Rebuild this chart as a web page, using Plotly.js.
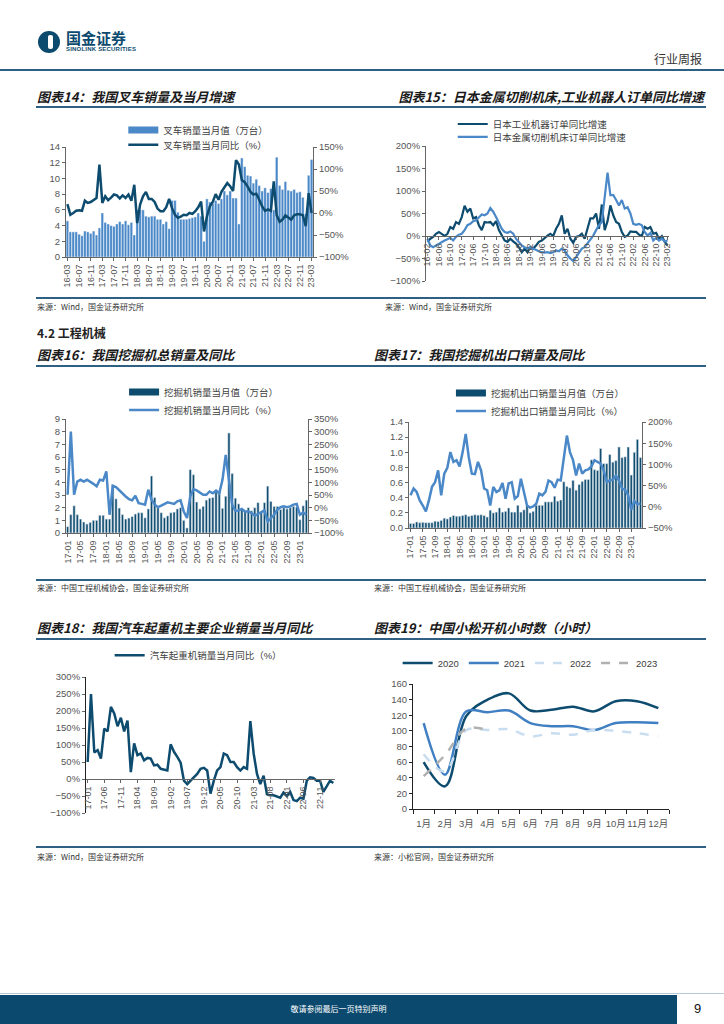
<!DOCTYPE html>
<html><head><meta charset="utf-8">
<script src="https://cdn.plot.ly/plotly-3.0.1.min.js"></script>
<style>
body{margin:0;background:#fff;}
#page{position:relative;width:724px;height:1024px;background:#fff;overflow:hidden;font-family:"Noto Sans CJK SC","Liberation Sans",sans-serif;}
.a{position:absolute;white-space:nowrap;}
.ttl{font-size:13px;font-weight:bold;font-style:italic;color:#1a1a1a;line-height:18px;}
.src{font-size:8px;color:#333;line-height:10px;}
.hl{position:absolute;height:1.5px;background:#2f5f82;}
.ch{position:absolute;}
</style></head>
<body><div id="page">
<svg class="a" style="left:36px;top:29px" width="26" height="26" viewBox="0 0 26 26">
 <circle cx="13" cy="13" r="11" fill="#0c4a6e"/>
 <rect x="12" y="6" width="5" height="14" rx="2" fill="#fff"/>
</svg>
<div class="a" style="left:66px;top:29px;font-size:15px;font-weight:bold;color:#0c4a6e;line-height:18px;">国金证券</div>
<div class="a" style="left:66px;top:46px;font-size:6px;font-weight:bold;color:#0c4a6e;font-family:'Liberation Sans';letter-spacing:0.2px;">SINOLINK SECURITIES</div>
<div class="a" style="right:22px;top:51px;font-size:12px;color:#333;line-height:16px;">行业周报</div>
<div class="hl" style="left:0;top:69px;width:724px;"></div>

<div class="a ttl" style="left:37px;top:88px;">图表14：我国叉车销量及当月增速</div>
<div class="a ttl" style="right:20px;top:88px;">图表15：日本金属切削机床,工业机器人订单同比增速</div>
<div class="hl" style="left:36px;top:106px;width:670px;"></div>
<div class="hl" style="left:36px;top:297px;width:670px;"></div>
<div class="a src" style="left:37px;top:302px;">来源：Wind，国金证券研究所</div>
<div class="a src" style="left:385px;top:302px;">来源：Wind，国金证券研究所</div>

<div class="a" style="left:37px;top:325px;font-size:12px;font-weight:bold;color:#222;line-height:16px;">4.2 工程机械</div>
<div class="a ttl" style="left:37px;top:346px;">图表16：我国挖掘机总销量及同比</div>
<div class="a ttl" style="left:374px;top:346px;">图表17：我国挖掘机出口销量及同比</div>
<div class="hl" style="left:36px;top:365px;width:670px;"></div>
<div class="hl" style="left:36px;top:579px;width:670px;"></div>
<div class="a src" style="left:37px;top:583px;">来源：中国工程机械协会，国金证券研究所</div>
<div class="a src" style="left:374px;top:583px;">来源：中国工程机械协会，国金证券研究所</div>

<div class="a ttl" style="left:37px;top:619px;">图表18：我国汽车起重机主要企业销量当月同比</div>
<div class="a ttl" style="left:374px;top:619px;">图表19：中国小松开机小时数（小时）</div>
<div class="hl" style="left:36px;top:638px;width:670px;"></div>
<div class="hl" style="left:36px;top:846px;width:670px;"></div>
<div class="a src" style="left:37px;top:852px;">来源：Wind，国金证券研究所</div>
<div class="a src" style="left:374px;top:852px;">来源：小松官网，国金证券研究所</div>

<div class="a" style="left:0;top:993px;width:724px;height:1px;background:#b8cad8;"></div>
<div class="a" style="left:0;top:995px;width:677px;height:29px;background:#0b4a6e;"></div>
<div class="a" style="left:0;top:1003px;width:677px;text-align:center;font-size:8px;color:#fff;line-height:12px;">敬请参阅最后一页特别声明</div>
<div class="a" style="left:694px;top:1000px;font-size:13px;color:#111;font-family:'Liberation Sans';line-height:18px;">9</div>

<div id="c14" class="ch" style="left:30px;top:112px;width:320px;height:188px;"></div>
<div id="c15" class="ch" style="left:380px;top:112px;width:320px;height:188px;"></div>
<div id="c16" class="ch" style="left:30px;top:378px;width:320px;height:200px;"></div>
<div id="c17" class="ch" style="left:370px;top:378px;width:320px;height:200px;"></div>
<div id="c18" class="ch" style="left:30px;top:640px;width:320px;height:200px;"></div>
<div id="c19" class="ch" style="left:380px;top:640px;width:320px;height:200px;"></div>
</div>
<script>
// ---------- data ----------
function months(y, m, n){ const out=[]; for(let k=0;k<n;k++){ const yy=y+Math.floor((m-1+k)/12); const mm=(m-1+k)%12+1; out.push(String(yy).padStart(2,'0')+'-'+String(mm).padStart(2,'0')); } return out; }

// Chart 14: forklift sales
const cats14 = months(16,3,85);
const ticks14 = ['16-03','16-07','16-11','17-03','17-07','17-11','18-03','18-07','18-11','19-03','19-07','19-11','20-03','20-07','20-11','21-03','21-07','21-11','22-03','22-07','22-11','23-03'];
const forkliftSales = [4.6,3.2,3.2,3.2,2.9,2.7,3.3,3.2,3.0,3.3, 2.8,3.7,5.6,4.4,4.2,4.0,3.9,4.2,4.5,4.2, 4.6,4.1,4.4,2.8,6.0,6.0,6.0,5.2,5.1,5.2, 5.2,4.8,4.8,4.2,4.5,3.6,7.2,7.2,5.7,4.8, 4.8,4.8,4.9,5.0,5.1,5.6,5.2,2.0,7.4,7.0, 6.8,7.2,6.8,7.4,8.4,7.9,8.4,7.5,7.5,4.2, 12.6,11.5,10.4,10.3,9.4,9.9,9.1,8.4,8.8,8.2, 8.7,6.0,12.7,9.1,8.6,9.6,8.5,8.4,8.6,8.2, 8.3,7.6,5.5,10.4,12.4];
const forkliftYoy = [20,-4,0,5,6,5,28,23,25,29, 34,110,23,38,29,35,42,40,33,40, 34,42,28,64,-23,19,38,48,32,32, 25,10,4,4,13,32,11,-4,-11,-8, -4,-5,0,-2,4,13,26,-42,-8,15, 25,43,30,48,57,68,61,50,120,110, 75,70,60,48,42,44,30,15,5,8, 5,72,-5,-20,-15,-5,-10,-15,-5,-3, -3,-5,-30,45,0];

// Chart 15: Japan orders yoy
const cats15 = months(16,2,85);
const ticks15 = ['16-02','16-06','16-10','17-02','17-06','17-10','18-02','18-06','18-10','19-02','19-06','19-10','20-02','20-06','20-10','21-02','21-06','21-10','22-02','22-06','22-10','23-02'];
const robotYoy = [-13,-6,-2,5,9,4,0,5,20,16, 31,27,42,67,54,61,39,42,24,13, 31,30,31,24,33,13,1,-10,-13,-6, -12,-17,-25,-36,-28,-36,-25,-28,-21,-13, -10,-4,1,5,0,16,27,46,5,16, -6,-15,-2,0,5,-6,20,39,39,50, 16,70,13,33,68,46,31,27,9,-2, 1,10,9,9,3,0,20,16,20,5, 7,-6,0,-13,-21];
const toolYoy = [-6,-21,-25,-21,-17,-13,-10,-7,-4,-10, -2,3,5,13,24,27,33,35,42,48, 46,50,62,54,42,27,16,9,7,10, 5,-6,-13,-21,-25,-28,-25,-28,-32,-34, -36,-37,-36,-38,-36,-32,-34,-28,-32,-43, -50,-56,-47,-36,-28,-25,-17,-7,1,13, 24,31,83,141,91,91,80,68,80,61, 64,50,27,25,27,24,9,1,7,-10, -4,-10,-6,-12,-10];

// Chart 16: excavator total sales
const cats16 = months(17,1,75);
const ticks16 = ['17-01','17-05','17-09','18-01','18-05','18-09','19-01','19-05','19-09','20-01','20-05','20-09','21-01','21-05','21-09','22-01','22-05','22-09','23-01'];
const excSales = [0.5,1.45,2.15,1.45,1.1,0.87,0.71,0.84,1.0,1.0, 1.4,1.4,1.1,1.1,3.8,2.7,1.97,1.45,1.1,1.18, 1.3,1.5,1.6,1.6,1.2,1.9,4.5,2.8,2.0,1.6, 1.2,1.35,1.6,1.65,1.9,2.0,1.0,0.4,5.0,4.6, 2.45,1.9,2.1,2.6,2.75,2.8,3.4,3.3,1.95,2.9, 7.9,4.7,2.75,2.3,1.9,1.7,2.0,1.75,2.0,2.4, 1.6,2.4,3.7,2.5,2.1,2.1,1.85,2.0,1.9,2.0, 2.1,2.05,1.05,2.15,2.6];
const excYoy = [51,300,51,103,110,103,110,103,94,84, 110,107,143,-28,86,81,68,55,44,34, 29,47,18,15,12,71,31,12,2,8, 15,21,18,15,25,29,-15,-41,44,73, 68,60,51,51,64,57,67,57,110,208, 103,12,-12,-11,-5,-15,-15,-21,-32,-24, -19,-11,-54,-41,-28,-8,2,5,2,5, 12,15,-28,-19,-28];

// Chart 17: excavator exports
const cats17 = months(17,1,76);
const ticks17 = ticks16;
const expSales = [0.06,0.06,0.08,0.07,0.075,0.07,0.07,0.07,0.09,0.085, 0.1,0.13,0.12,0.145,0.165,0.155,0.155,0.165,0.175,0.155, 0.165,0.175,0.17,0.175,0.165,0.145,0.235,0.2,0.21,0.265, 0.21,0.22,0.265,0.21,0.21,0.3,0.21,0.24,0.3,0.2, 0.22,0.3,0.3,0.3,0.345,0.345,0.345,0.42,0.355,0.37, 0.61,0.55,0.53,0.63,0.5,0.575,0.615,0.64,0.64,0.9, 0.77,0.76,1.05,0.85,0.85,0.97,0.87,0.89,1.07,0.93, 0.94,1.07,0.7,1.0,1.17,0.93];
const expYoy = [27,43,35,15,3,-11,15,47,58,86, 27,78,92,129,106,110,95,129,172,117, 78,77,106,86,43,39,3,47,35,39, 56,19,55,58,19,25,66,35,3,-2, 1,7,31,27,35,62,58,45,64,62, 113,168,129,110,74,102,78,86,88,95, 110,106,102,86,58,62,64,74,62,43, 40,27,-7,14,6,8];

// Chart 18: truck crane yoy
const cats18 = months(17,1,75);
const ticks18 = ['17-01','17-06','17-11','18-04','18-09','19-02','19-07','19-12','20-05','20-10','21-03','21-08','22-01','22-06','22-11'];
const craneYoy = [50,250,78,85,60,148,140,212,193,155, 180,140,172,20,105,70,75,55,62,60, 40,42,30,28,25,102,80,65,48,-5, -15,-5,5,15,30,33,25,-43,-5,25, 35,75,70,50,50,35,25,35,30,170, 75,15,-15,10,-45,-48,-48,-52,-55,-40, -50,-38,-62,-65,-55,-58,-5,5,3,-5, -5,-38,-20,-5,-12];

// Chart 19: Komatsu hours
const months19 = ['1月','2月','3月','4月','5月','6月','7月','8月','9月','10月','11月','12月'];
const hours2020 = [60,29,119,140,148,126,127,131,125,138,138,129];
const hours2021 = [110,44,125,124,126,110,106,106,101,110,111,110];
const hours2022 = [70,48,101,101,102,93,97,95,101,100,97,93];
const hours2023 = [42,69,103,101];

// ---------- style ----------
const NAVY = '#0d4b6f', BLUE = '#4a88c8', AX = '#666666', TXT = '#555555';
const FONT = {family:'Liberation Sans, Noto Sans CJK SC, sans-serif', size:9.5, color:TXT};
const XFONT = Object.assign({}, FONT, {size:9});
const cfg = {staticPlot:true, displayModeBar:false};
function axisBase(extra){ return Object.assign({showgrid:false, zeroline:false, showline:true, linecolor:AX, linewidth:1, ticks:'outside', ticklen:3, tickcolor:AX, tickfont:FONT, fixedrange:true, automargin:false}, extra); }
function legendBase(x,y,extra){ return Object.assign({x:x, y:y, xanchor:'left', yanchor:'middle', bgcolor:'rgba(0,0,0,0)', font:{family:FONT.family, size:9.5, color:'#404040'}, tracegroupgap:0, itemwidth:30}, extra||{}); }
function legendBar(name,color,lg){ return {x:[null], y:[null], type:'scatter', mode:'lines', name:name, line:{color:color, width:7}, hoverinfo:'skip', legend:lg||'legend'}; }
const base = {paper_bgcolor:'rgba(0,0,0,0)', plot_bgcolor:'rgba(0,0,0,0)', showlegend:true};
function mg(l,r,t,b){ return {l:l, r:r, t:t, b:b, pad:0, autoexpand:false}; }

// Chart 14
Plotly.newPlot('c14', [
  legendBar('叉车销量当月值（万台）', BLUE, 'legend'),
  {x:cats14, y:forkliftSales, type:'bar', marker:{color:BLUE, line:{color:'#ffffff', width:0.4}}, showlegend:false, yaxis:'y'},
  {x:cats14, y:forkliftYoy, type:'scatter', mode:'lines', name:'叉车销量当月同比（%）', line:{color:NAVY, width:2.5}, yaxis:'y2', legend:'legend2'}
], Object.assign({}, base, {
  width:320, height:188, margin:mg(36,37,35,43), bargap:0.12,
  xaxis:axisBase({type:'category', range:[-0.5,84.5], tickvals:ticks14, ticktext:ticks14, tickangle:-90, tickfont:XFONT}),
  yaxis:axisBase({range:[0,14], dtick:2}),
  yaxis2:axisBase({range:[-100,150], dtick:50, overlaying:'y', side:'right', ticksuffix:'%'}),
  legend:legendBase(0.232, 1.155), legend2:legendBase(0.232, 1.02)
}), cfg);

// Chart 15
Plotly.newPlot('c15', [
  {x:cats15, y:robotYoy, type:'scatter', mode:'lines', name:'日本工业机器订单同比增速', line:{color:NAVY, width:2.2}, legend:'legend'},
  {x:cats15, y:toolYoy, type:'scatter', mode:'lines', name:'日本金属切削机床订单同比增速', line:{color:BLUE, width:2.2}, legend:'legend2'}
], Object.assign({}, base, {
  width:320, height:188, margin:mg(46,31,34,19),
  xaxis:axisBase({type:'category', range:[-0.5,84.5], anchor:'free', position:1/3, tickvals:ticks15, ticktext:ticks15, tickangle:-90, tickfont:XFONT}),
  yaxis:axisBase({range:[-100,200], dtick:50, ticksuffix:'%'}),
  legend:legendBase(0.11, 1.163), legend2:legendBase(0.11, 1.067)
}), cfg);

// Chart 16
Plotly.newPlot('c16', [
  legendBar('挖掘机销量当月值（万台）', NAVY, 'legend'),
  {x:cats16, y:excSales, type:'bar', marker:{color:NAVY, line:{color:'#dfe8ef', width:0.6}}, showlegend:false},
  {x:cats16, y:excYoy, type:'scatter', mode:'lines', name:'挖掘机销量当月同比（%）', line:{color:BLUE, width:2.5}, yaxis:'y2', legend:'legend2'}
], Object.assign({}, base, {
  width:320, height:200, margin:mg(36,42,41,45), bargap:0.3,
  xaxis:axisBase({type:'category', range:[-0.5,74.5], tickvals:ticks16, ticktext:ticks16, tickangle:-90, tickfont:XFONT}),
  yaxis:axisBase({range:[0,9], dtick:1}),
  yaxis2:axisBase({range:[-100,350], dtick:50, overlaying:'y', side:'right', ticksuffix:'%'}),
  legend:legendBase(0.24, 1.237), legend2:legendBase(0.24, 1.079)
}), cfg);

// Chart 17
Plotly.newPlot('c17', [
  legendBar('挖掘机出口销量当月值（万台）', NAVY, 'legend'),
  {x:cats17, y:expSales, type:'bar', marker:{color:NAVY, line:{color:'#dfe8ef', width:0.6}}, showlegend:false},
  {x:cats17, y:expYoy, type:'scatter', mode:'lines', name:'挖掘机出口销量当月同比（%）', line:{color:BLUE, width:2.5}, yaxis:'y2', legend:'legend2'}
], Object.assign({}, base, {
  width:320, height:200, margin:mg(39,48,44,50), bargap:0.25,
  xaxis:axisBase({type:'category', range:[-0.5,75.5], tickvals:ticks17, ticktext:ticks17, tickangle:-90, tickfont:XFONT}),
  yaxis:axisBase({range:[0,1.4], dtick:0.2, tickformat:'.1f'}),
  yaxis2:axisBase({range:[-50,200], dtick:50, overlaying:'y', side:'right', ticksuffix:'%'}),
  legend:legendBase(0.18, 1.274), legend2:legendBase(0.18, 1.104)
}), cfg);

// Chart 18
Plotly.newPlot('c18', [
  {x:cats18, y:craneYoy, type:'scatter', mode:'lines', name:'汽车起重机销量当月同比（%）', line:{color:NAVY, width:2.5}}
], Object.assign({}, base, {
  width:320, height:200, margin:mg(56,15,37,27),
  xaxis:axisBase({type:'category', range:[-0.5,74.5], anchor:'free', position:0.25, tickvals:ticks18, ticktext:ticks18, tickangle:-90, tickfont:XFONT}),
  yaxis:axisBase({range:[-100,300], dtick:50, ticksuffix:'%', linecolor:'#222'}),
  legend:legendBase(0.095, 1.16)
}), cfg);

// Chart 19
Plotly.newPlot('c19', [
  {x:months19, y:hours2020, type:'scatter', mode:'lines', name:'2020', line:{color:NAVY, width:2.5, shape:'spline', smoothing:1}},
  {x:months19, y:hours2021, type:'scatter', mode:'lines', name:'2021', line:{color:'#3f7fc2', width:2.5, shape:'spline', smoothing:1}},
  {x:months19, y:hours2022, type:'scatter', mode:'lines', name:'2022', line:{color:'#c9ddf0', width:2.5, dash:'dash', shape:'spline', smoothing:1}},
  {x:months19.slice(0,hours2023.length), y:hours2023, type:'scatter', mode:'lines', name:'2023', line:{color:'#b0b0b0', width:2.5, dash:'dash', shape:'spline', smoothing:1}}
], Object.assign({}, base, {
  width:320, height:200, margin:mg(33,31,44,31),
  xaxis:axisBase({type:'category', range:[-0.5,11.5], tickson:'boundaries', ticklen:4, tickangle:0, linecolor:'#222', tickcolor:'#222', ticklabelstandoff:6}),
  yaxis:axisBase({range:[0,160], dtick:20, linecolor:'#222', tickcolor:'#222'}),
  legend:legendBase(-0.06, 1.168, {orientation:'h'})
}), cfg);
</script>
</body></html>
